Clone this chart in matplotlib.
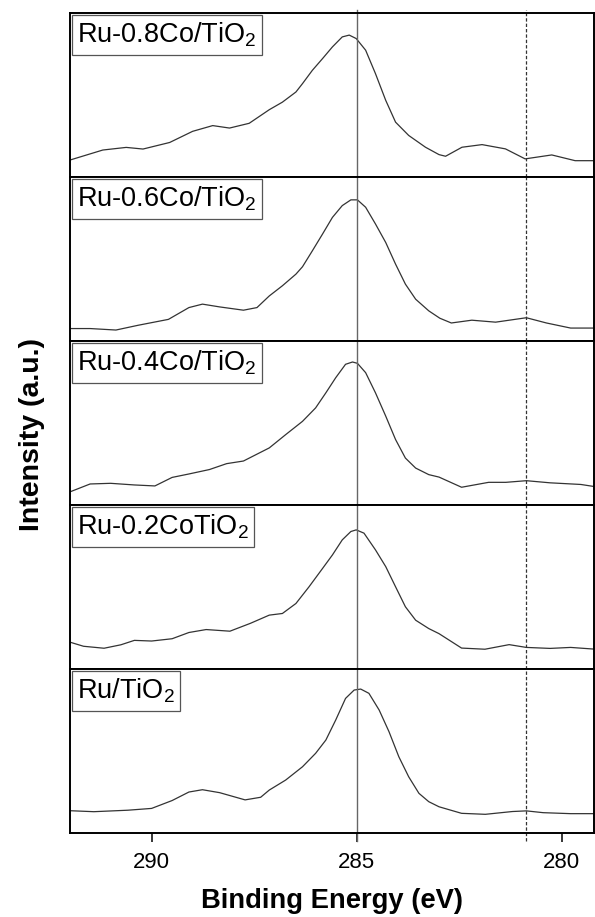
import matplotlib
matplotlib.use("Agg")
import matplotlib.pyplot as plt
from matplotlib.offsetbox import AnchoredText

plt.rcParams['font.family'] = ['Liberation Sans', 'DejaVu Sans']
plt.rcParams['mathtext.fontset'] = 'custom'
plt.rcParams['mathtext.rm'] = 'Liberation Sans'
plt.rcParams['mathtext.it'] = 'Liberation Sans:italic'

# C 1s spectra (intensity normalised to panel height)
labels = [r'Ru-0.8Co/TiO$_2$', r'Ru-0.6Co/TiO$_2$', r'Ru-0.4Co/TiO$_2$',
          r'Ru-0.2CoTiO$_2$', r'Ru/TiO$_2$']

e_08 = [291.99, 291.19, 290.62, 290.21, 289.56, 289.00, 288.51, 288.10, 287.62, 287.13,
        286.81, 286.48, 286.32, 286.08, 285.83, 285.59, 285.35, 285.18, 285.01, 284.78,
        284.54, 284.29, 284.05, 283.73, 283.32, 282.99, 282.83, 282.43, 281.94, 281.37,
        280.89, 280.24, 279.67, 279.22]
i_08 = [0.105, 0.166, 0.182, 0.172, 0.212, 0.280, 0.315, 0.300, 0.329, 0.412,
        0.458, 0.520, 0.571, 0.652, 0.724, 0.795, 0.856, 0.867, 0.846, 0.775,
        0.632, 0.469, 0.336, 0.255, 0.183, 0.138, 0.128, 0.183, 0.199, 0.173,
        0.112, 0.136, 0.101, 0.101]

e_06 = [291.99, 291.50, 290.87, 290.33, 289.59, 289.09, 288.76, 288.34, 287.76, 287.43,
        287.13, 286.81, 286.48, 286.32, 286.08, 285.83, 285.59, 285.35, 285.14, 284.98,
        284.78, 284.54, 284.29, 284.05, 283.81, 283.56, 283.24, 282.97, 282.69, 282.19,
        281.61, 280.86, 280.37, 279.78, 279.22]
i_06 = [0.077, 0.077, 0.068, 0.097, 0.133, 0.205, 0.226, 0.209, 0.189, 0.205,
        0.276, 0.338, 0.409, 0.454, 0.551, 0.654, 0.755, 0.827, 0.862, 0.862,
        0.817, 0.715, 0.602, 0.470, 0.348, 0.256, 0.185, 0.140, 0.111, 0.128,
        0.116, 0.143, 0.111, 0.080, 0.080]

e_04 = [291.99, 291.50, 291.00, 290.42, 289.92, 289.50, 289.09, 288.59, 288.17, 287.76,
        287.13, 286.73, 286.32, 286.00, 285.75, 285.51, 285.27, 285.10, 284.98, 284.78,
        284.54, 284.29, 284.05, 283.81, 283.56, 283.24, 282.99, 282.44, 281.78, 281.36,
        280.86, 280.28, 279.53, 279.22]
i_04 = [0.081, 0.129, 0.133, 0.123, 0.117, 0.169, 0.190, 0.217, 0.253, 0.269,
        0.349, 0.430, 0.511, 0.593, 0.685, 0.777, 0.859, 0.873, 0.865, 0.808,
        0.685, 0.543, 0.400, 0.287, 0.226, 0.186, 0.171, 0.109, 0.139, 0.139,
        0.149, 0.136, 0.126, 0.114]

e_02 = [291.99, 291.66, 291.16, 290.75, 290.42, 290.00, 289.50, 289.09, 288.67, 288.09,
        287.59, 287.13, 286.81, 286.48, 286.16, 285.83, 285.59, 285.35, 285.14, 285.01,
        284.82, 284.54, 284.29, 284.05, 283.81, 283.56, 283.24, 282.99, 282.44, 281.87,
        281.28, 280.86, 280.28, 279.78, 279.22]
i_02 = [0.164, 0.139, 0.127, 0.148, 0.175, 0.171, 0.185, 0.223, 0.241, 0.231,
        0.279, 0.329, 0.339, 0.400, 0.502, 0.614, 0.696, 0.788, 0.839, 0.849,
        0.829, 0.727, 0.625, 0.502, 0.380, 0.298, 0.247, 0.216, 0.128, 0.121,
        0.149, 0.132, 0.126, 0.132, 0.122]

e_00 = [291.99, 291.41, 290.58, 290.00, 289.50, 289.09, 288.76, 288.34, 287.72, 287.34,
        287.13, 286.73, 286.32, 286.00, 285.75, 285.51, 285.27, 285.06, 284.90, 284.70,
        284.45, 284.21, 283.97, 283.73, 283.48, 283.24, 282.99, 282.44, 281.86, 281.20,
        280.86, 280.45, 279.78, 279.22]
i_00 = [0.136, 0.130, 0.139, 0.150, 0.198, 0.250, 0.264, 0.246, 0.202, 0.218,
        0.262, 0.323, 0.404, 0.486, 0.567, 0.689, 0.821, 0.872, 0.878, 0.852,
        0.750, 0.618, 0.465, 0.343, 0.242, 0.191, 0.160, 0.120, 0.114, 0.131,
        0.135, 0.124, 0.118, 0.118]

energies = [e_08, e_06, e_04, e_02, e_00]
intens = [i_08, i_06, i_04, i_02, i_00]

ref_solid = 285.0
ref_dash = 280.86
xticks = [290, 285, 280]

fig, axes = plt.subplots(5, 1, figsize=(5.95, 9.17), dpi=100, sharex=True)
fig.subplots_adjust(left=0.117, right=0.999, top=0.9855, bottom=0.0916, hspace=0)

for k, ax in enumerate(axes):
    ax.plot(energies[k], intens[k], color='#333333', lw=0.9)
    lo, hi = 0, 1
    if k == 0:
        hi = 1.018
    if k == 4:
        lo = -0.05
    ax.axvline(ref_solid, ymin=lo, ymax=hi, color='#666666', lw=1.0, clip_on=False)
    ax.axvline(ref_dash, ymin=lo, ymax=hi, color='#333333', lw=0.9,
               ls=(0, (2.7, 1.6)), clip_on=False)
    ax.set_xlim(292.0, 279.2)
    ax.set_ylim(0, 1)
    ax.set_yticks([])
    for s in ax.spines.values():
        s.set_linewidth(1.4)
    at = AnchoredText(labels[k], loc='upper left', frameon=True, pad=0.2,
                      borderpad=0.08, prop=dict(size=19.5))
    at.patch.set_edgecolor('#555555')
    at.patch.set_linewidth(0.9)
    at.patch.set_boxstyle('square,pad=0')
    ax.add_artist(at)
    ax.tick_params(axis='x', which='both', bottom=(k == 4), top=False,
                   direction='out', length=6.8, width=1.1, labelsize=16, pad=7)

axes[-1].set_xticks(xticks)
axes[-1].set_xticklabels([str(t) for t in xticks])
axes[-1].set_xlabel('Binding Energy (eV)', fontsize=19.7, fontweight='bold', labelpad=11)
fig.text(0.053, 0.526, 'Intensity (a.u.)', rotation=90, fontsize=20.5,
         fontweight='bold', ha='center', va='center')

fig.savefig('out.png', dpi=100)
